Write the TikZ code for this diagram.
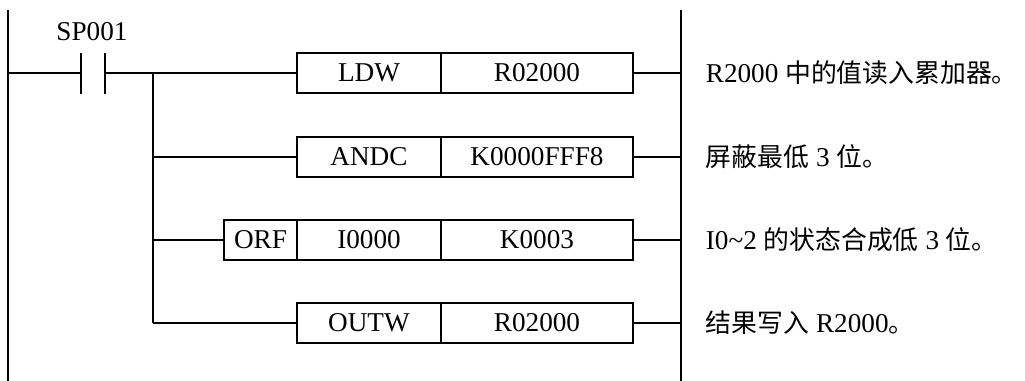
\documentclass[tikz,border=0pt]{standalone}
\usepackage{fontspec}
\setmainfont{Liberation Serif}
\newfontfamily\cjk[Scale=0.95]{Noto Sans CJK SC}
\usetikzlibrary{positioning}
\begin{document}
\begin{tikzpicture}[x=0.5pt,y=-0.5pt,line width=0.9pt,
		cell/.style={draw,rectangle,minimum height=20pt,inner sep=0pt,outer sep=0pt,font=\fontsize{13.6}{16}\selectfont},
		note/.style={anchor=west,inner sep=0pt,font=\fontsize{13.6}{16}\selectfont}]
		\useasboundingbox (0,0) rectangle (1025,381);
		
		%rails
		\coordinate (lt) at (8,10);
		\coordinate (lb) at (8,381);
		\coordinate (rt) at (681,10);
		\coordinate (rb) at (681,381);
		\draw (lt) -- (lb);
		\draw (rt) -- (rb);
		%contact
		\node[inner sep=0pt,font=\fontsize{13.6}{16}\selectfont](sp) at (92,32) {SP001};
		\coordinate (ca) at (81,73);
		\coordinate (cb) at (105,73);
		\draw (81,53) -- (81,94);
		\draw (105,53) -- (105,94);
		\draw (ca -| lt) -- (ca);
		%boxes
		\node[cell,minimum width=72pt,anchor=west](ldw) at (297,73) {LDW};
		\node[cell,minimum width=96pt,right=0pt of ldw](ldwarg) {R02000};
		\node[cell,minimum width=72pt,anchor=west](andc) at (297,157) {ANDC};
		\node[cell,minimum width=96pt,right=0pt of andc](andcarg) {K0000FFF8};
		\node[cell,minimum width=36.5pt,anchor=west](orf) at (224,240) {ORF};
		\node[cell,minimum width=72pt,right=0pt of orf](orfa) {I0000};
		\node[cell,minimum width=96pt,right=0pt of orfa](orfb) {K0003};
		\node[cell,minimum width=72pt,anchor=west](outw) at (297,323) {OUTW};
		\node[cell,minimum width=96pt,right=0pt of outw](outwarg) {R02000};
		%wires
		\coordinate (jt) at (153,73);
		\coordinate (jb) at (153,323);
		\draw (cb) -- (ldw.west);
		\draw (jt) -- (jb);
		\draw (jb |- andc.west) -- (andc.west);
		\draw (jb |- orf.west) -- (orf.west);
		\draw (jb) -- (outw.west);
		\draw (ldwarg.east) -- (ldwarg.east -| rt);
		\draw (andcarg.east) -- (andcarg.east -| rt);
		\draw (orfb.east) -- (orfb.east -| rt);
		\draw (outwarg.east) -- (outwarg.east -| rt);
		%notes
		\node[note](note1) at (705,73) {R2000 {\cjk 中的值读入累加器。}};
		\node[note](note2) at (705,157) {{\cjk 屏蔽最低} 3 {\cjk 位。}};
		\node[note](note3) at (705,240) {I0\textasciitilde2 {\cjk 的状态合成低} 3 {\cjk 位。}};
		\node[note](note4) at (705,323) {{\cjk 结果写入} R2000{\cjk 。}};
		\end{tikzpicture}
\end{document}
